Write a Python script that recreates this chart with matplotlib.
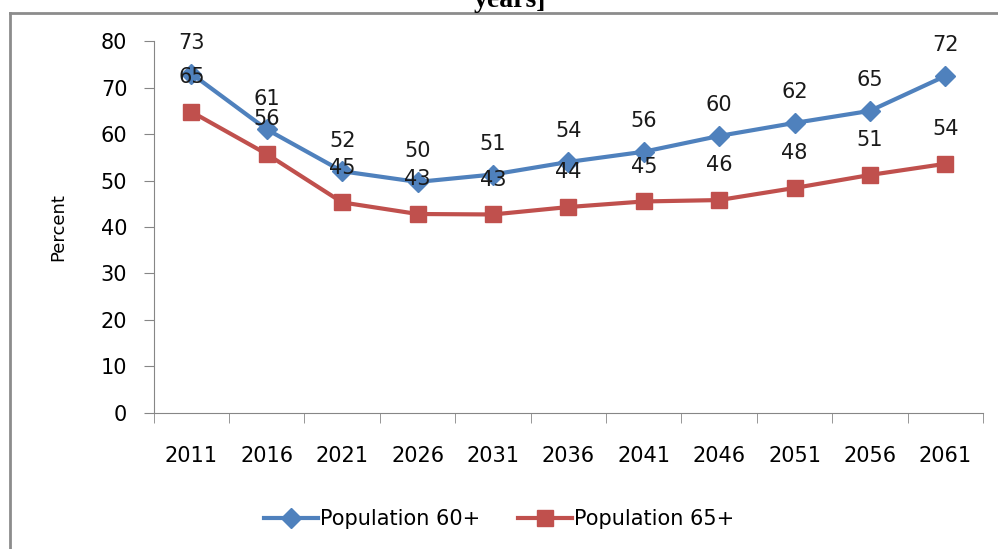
import numpy as np
import matplotlib.pyplot as plt
from matplotlib.lines import Line2D

years = ['2011', '2016', '2021', '2026', '2031', '2036', '2041', '2046', '2051', '2056', '2061']
pop60 = [73.0, 61.0, 52.0, 49.7, 51.3, 54.0, 56.2, 59.6, 62.4, 65.0, 72.5]
pop65 = [64.8, 55.7, 45.3, 42.8, 42.7, 44.3, 45.5, 45.8, 48.4, 51.2, 53.6]
labels60 = ['73', '61', '52', '50', '51', '54', '56', '60', '62', '65', '72']
labels65 = ['65', '56', '45', '43', '43', '44', '45', '46', '48', '51', '54']

blue = '#4F81BD'
red = '#C0504D'
grey = '#868686'

plt.rcParams['font.family'] = ['DejaVu Sans']

fig = plt.figure(figsize=(9.98, 5.49), dpi=100)
ax = fig.add_axes([0.154, 0.248, 0.831, 0.677])

x = np.arange(len(years))
ax.plot(x, pop60, color=blue, lw=3, marker='D', markersize=10, label='Population 60+')
ax.plot(x, pop65, color=red, lw=3, marker='s', markersize=12, label='Population 65+')

for xi, v, t in zip(x, pop60, labels60):
    ax.annotate(t, (xi, v), xytext=(0, 22), textcoords='offset points',
                ha='center', va='center', fontsize=15, color='#1a1a1a')
for xi, v, t in zip(x, pop65, labels65):
    ax.annotate(t, (xi, v), xytext=(0, 25), textcoords='offset points',
                ha='center', va='center', fontsize=15, color='#1a1a1a')

ax.set_xlim(-0.5, len(years) - 0.5)
ax.set_ylim(0, 80)
ax.set_yticks(range(0, 81, 10))
ax.set_xticks(x)
ax.set_xticklabels(years)
ax.set_xticks(np.arange(-0.5, len(years)), minor=True)
ax.tick_params(axis='x', which='major', length=0, pad=24, labelsize=15)
ax.tick_params(axis='x', which='minor', length=7, color=grey, direction='out')
ax.tick_params(axis='y', length=7, color=grey, labelsize=15, pad=12)
for s in ['top', 'right']:
    ax.spines[s].set_visible(False)
for s in ['left', 'bottom']:
    ax.spines[s].set_color(grey)
ax.set_ylabel('Percent', fontsize=13, labelpad=24)

handles = [Line2D([], [], color=blue, lw=3, marker='D', markersize=10),
           Line2D([], [], color=red, lw=3, marker='s', markersize=12)]
fig.legend(handles, ['Population 60+', 'Population 65+'], loc='center',
           bbox_to_anchor=(0.50, 0.055), ncol=2, frameon=False, fontsize=15,
           handlelength=2.6, handletextpad=0.1, columnspacing=1.8)

# outer chart frame (only top and left visible)
fig.add_artist(Line2D([0.010, 0.010], [0, 0.976], color='#8c8c8c', lw=2))
fig.add_artist(Line2D([0.010, 1.0], [0.976, 0.976], color='#8c8c8c', lw=2))

# clipped title
fig.text(0.511, 0.987, 'years]', ha='center', va='baseline', fontsize=20,
         fontweight='bold', family='Liberation Serif')

fig.savefig('out.png', dpi=100)
